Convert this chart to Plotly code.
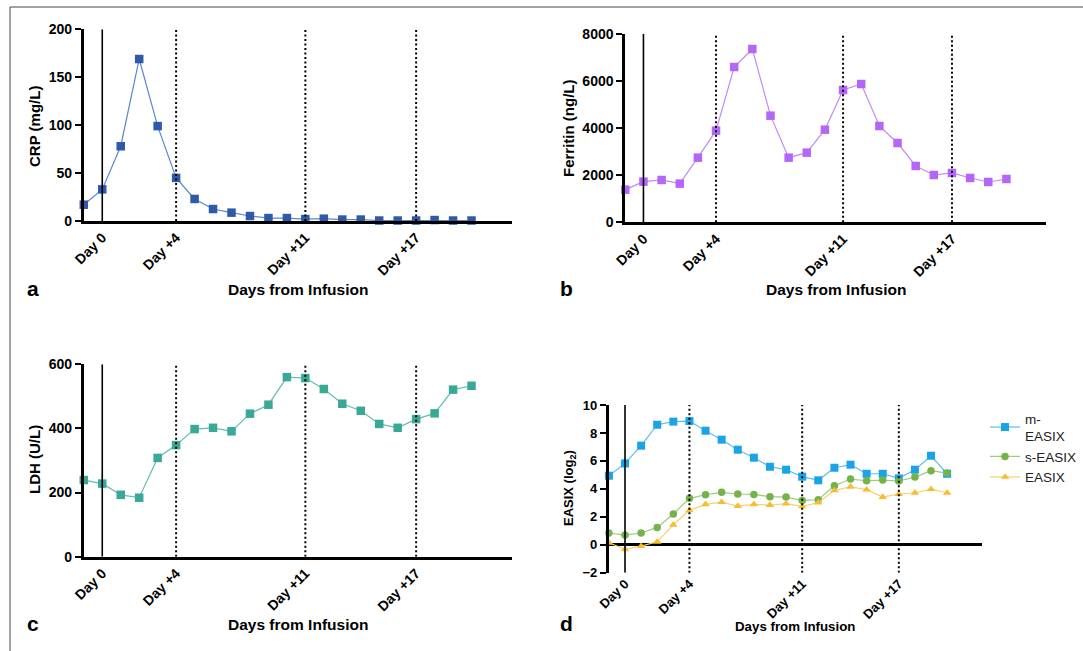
import plotly.graph_objects as go

days = list(range(-1, 21))
crp = [17, 33, 78, 169, 99, 45, 23, 12.5, 8.7, 5.2, 3.1, 3.1, 2, 2.4, 1.5, 1.5, 0.5, 0.5, 0.5, 1, 0.5, 0.5]
ferritin = [1385, 1724, 1795, 1640, 2742, 3887, 6587, 7350, 4523, 2742, 2954, 3929,
            5611, 5866, 4085, 3364, 2389, 2007, 2092, 1880, 1710, 1837]
ldh = [239, 228, 193, 184, 308, 348, 398, 402, 391, 446, 474, 560, 557, 523, 477, 455,
       414, 402, 429, 447, 521, 533]
m_easix = [4.94, 5.82, 7.09, 8.59, 8.81, 8.85, 8.16, 7.52, 6.80, 6.23, 5.58, 5.37, 4.87,
           4.61, 5.51, 5.73, 5.08, 5.08, 4.75, 5.37, 6.37, 5.08]
s_easix = [0.84, 0.69, 0.84, 1.24, 2.20, 3.32, 3.58, 3.75, 3.63, 3.60, 3.44, 3.41, 3.17,
           3.22, 4.22, 4.70, 4.58, 4.63, 4.56, 4.84, 5.30, 5.13]
easix = [0.14, -0.33, -0.10, 0.21, 1.43, 2.46, 2.89, 3.05, 2.77, 2.89, 2.84, 2.94, 2.74,
         3.01, 3.89, 4.15, 3.94, 3.41, 3.63, 3.72, 3.98, 3.72]

tick_days = [0, 4, 11, 17]
tick_labels = ["Day 0", "Day +4", "Day +11", "Day +17"]
dotted_days = [4, 11, 17]

W, H = 1083, 651
FONT = "Liberation Sans, Arial, sans-serif"

def px_x(a, b):
    return [a / W, b / W]

def px_y(top, bottom):
    return [(H - bottom) / H, (H - top) / H]

panels = [
    dict(x=px_x(83.8, 511.6), y=px_y(29.3, 221), yr=[0, 200], dt=50, fs=14, xfs=14),
    dict(x=px_x(625.3, 1045.8), y=px_y(33.7, 222.3), yr=[0, 8000], dt=2000, fs=14, xfs=14),
    dict(x=px_x(83.8, 511.6), y=px_y(364.3, 556.7), yr=[0, 600], dt=200, fs=14, xfs=14),
    dict(x=px_x(608.9, 982.1), y=px_y(405, 572.7), yr=[-2, 10], dt=2, fs=13, xfs=13),
]

fig = go.Figure()

def add_series(k, y, name, mcol, lcol, symbol, size, show):
    sfx = "" if k == 1 else str(k)
    fig.add_trace(go.Scatter(
        x=days, y=y, mode="lines+markers", name=name, showlegend=show,
        xaxis="x" + sfx, yaxis="y" + sfx, cliponaxis=False,
        line=dict(color=lcol, width=1.2),
        marker=dict(color=mcol, symbol=symbol, size=size, line=dict(width=0)),
    ))

add_series(1, crp, "CRP", "#2E5AA8", "#5C86CC", "square", 8.5, False)
add_series(2, ferritin, "Ferritin", "#B366F7", "#C08AF7", "square", 8.5, False)
add_series(3, ldh, "LDH", "#3AA897", "#62BDAE", "square", 8.5, False)
add_series(4, m_easix, "m-<br>EASIX", "#1AA3E6", "#5CBDEE", "square", 8, True)
add_series(4, s_easix, "s-EASIX", "#76B24A", "#9CCB7C", "circle", 7.5, True)
add_series(4, easix, "EASIX", "#F6BE2E", "#F8D070", "triangle-up", 7.5, True)

layout = dict(
    width=W, height=H, margin=dict(l=0, r=0, t=0, b=0, pad=0, autoexpand=False),
    plot_bgcolor="white", paper_bgcolor="white",
    font=dict(family=FONT, color="black"),
    legend=dict(x=985 / W, y=(H - 403) / H, xanchor="left", yanchor="top",
                font=dict(size=13.5, family=FONT, color="#222"),
                bgcolor="rgba(0,0,0,0)", tracegroupgap=4, itemwidth=30),
)

shapes = []
annotations = []
for i, p in enumerate(panels):
    k = i + 1
    sfx = "" if k == 1 else str(k)
    is_d = (k == 4)
    layout["xaxis" + sfx] = dict(
        domain=p["x"], anchor="y" + sfx, range=[-1, 22.17], automargin=False,
        tickvals=tick_days, ticktext=tick_labels, tickangle=-45,
        ticks="", showgrid=False, zeroline=False,
        showline=not is_d, linecolor="black", linewidth=3,
        tickfont=dict(size=p["xfs"], weight="bold", family=FONT, color="black"),
    )
    layout["yaxis" + sfx] = dict(
        domain=p["y"], anchor="x" + sfx, range=p["yr"], dtick=p["dt"], automargin=False,
        showgrid=False, showline=True, linecolor="black", linewidth=3,
        ticks="outside", ticklen=6, tickwidth=2, tickcolor="black",
        zeroline=is_d, zerolinecolor="black", zerolinewidth=3,
        tickfont=dict(size=p["fs"], weight="bold", family=FONT, color="black"),
    )
    y0, y1 = p["yr"]
    shapes.append(dict(type="line", xref="x" + sfx, yref="y" + sfx,
                       x0=0, x1=0, y0=y0, y1=y1, line=dict(color="black", width=1.6)))
    for d in dotted_days:
        shapes.append(dict(type="line", xref="x" + sfx, yref="y" + sfx,
                           x0=d, x1=d, y0=y0, y1=y1,
                           line=dict(color="black", width=2, dash="2px,2.5px")))

# frame
shapes.append(dict(type="rect", xref="paper", yref="paper",
                   x0=10 / W, x1=1.01, y0=-0.01, y1=(H - 7) / H,
                   line=dict(color="#444", width=1)))

def ann(text, x, y, size, angle=0, weight="bold"):
    annotations.append(dict(text=text, x=x / W, y=(H - y) / H, xref="paper", yref="paper",
                            showarrow=False, textangle=angle, xanchor="center", yanchor="middle",
                            font=dict(size=size, family=FONT, color="black", weight=weight)))

# x titles
ann("Days from Infusion", 298, 289, 15.5)
ann("Days from Infusion", 836, 289, 15.5)
ann("Days from Infusion", 298, 624, 15.5)
ann("Days from Infusion", 795, 626, 13.3)
# y titles
ann("CRP (mg/L)", 35, 127, 15, -90)
ann("Ferritin (ng/L)", 568, 128, 15, -90)
ann("LDH (U/L)", 34, 460, 15, -90)
ann("EASIX (log<sub>2</sub>)", 570, 488, 13, -90)
# panel letters
ann("a", 33, 288, 21)
ann("b", 566, 288, 21)
ann("c", 33, 623, 21)
ann("d", 566, 623, 21)

layout["shapes"] = shapes
layout["annotations"] = annotations
fig.update_layout(**layout)
fig.write_html("out.html", config={"displayModeBar": False},
               post_script="document.body.style.margin='0';document.body.style.overflow='hidden';")
